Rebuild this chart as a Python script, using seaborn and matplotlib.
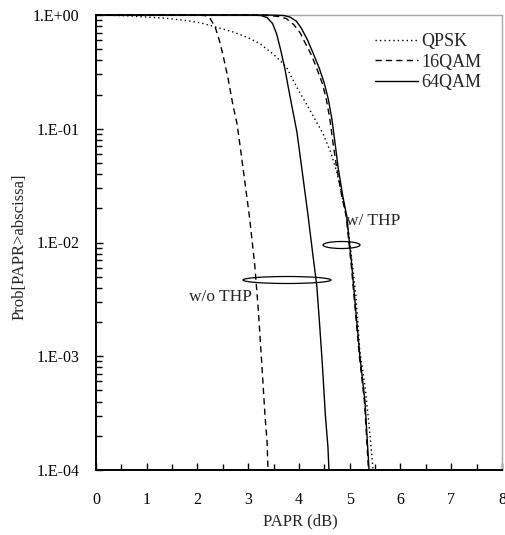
import numpy as np
import pandas as pd
import matplotlib
matplotlib.use("Agg")
import matplotlib.pyplot as plt
from matplotlib.patches import Ellipse
from matplotlib.ticker import LogLocator, FixedLocator, NullFormatter
import seaborn as sns

# ---- data ----
qpsk_thp_x = [0, 0.6, 1.0, 1.4, 1.8, 2.05, 2.34, 2.7, 3.0, 3.23, 3.5, 3.75, 3.96, 4.2, 4.47,
              4.62, 4.75, 4.87, 4.94, 5.02, 5.12, 5.2, 5.3, 5.38, 5.46]
qpsk_thp_y = [1.0, 0.985, 0.96, 0.935, 0.89, 0.855, 0.79, 0.71, 0.63, 0.56, 0.45, 0.35, 0.23, 0.15, 0.091,
              0.063, 0.041, 0.023, 0.017, 0.0085, 0.0035, 0.0011, 0.00055, 0.00025, 0.0001]

qam16_nothp_x = [0, 2.0, 2.15, 2.25, 2.35, 2.43, 2.5, 2.6, 2.7, 2.78, 2.85, 2.93, 3.03, 3.13,
                 3.2, 3.27, 3.33, 3.37, 3.39]
qam16_nothp_y = [1.0, 1.0, 0.99, 0.93, 0.78, 0.6, 0.45, 0.28, 0.16, 0.11, 0.065, 0.035, 0.016, 0.0062,
                 0.0025, 0.00081, 0.0003, 0.00018, 0.0001]

qam64_nothp_x = [0, 3.0, 3.25, 3.37, 3.48, 3.56, 3.64, 3.72, 3.79, 3.87, 3.96, 4.07, 4.18, 4.27,
                 4.35, 4.41, 4.46, 4.52, 4.57, 4.59]
qam64_nothp_y = [1.0, 1.0, 0.99, 0.95, 0.84, 0.68, 0.49, 0.34, 0.23, 0.15, 0.093, 0.04, 0.017, 0.008,
                 0.0042, 0.0018, 0.00085, 0.0003, 0.00016, 0.0001]

qam16_thp_x = [0, 3.3, 3.6, 3.75, 3.9, 4.02, 4.12, 4.25, 4.36, 4.46, 4.54, 4.61, 4.67, 4.74, 4.84,
               4.93, 5.03, 5.11, 5.19, 5.29, 5.37]
qam16_thp_y = [1.0, 1.0, 0.97, 0.93, 0.82, 0.7, 0.57, 0.44, 0.33, 0.25, 0.18, 0.12, 0.075, 0.046, 0.026,
               0.017, 0.0063, 0.0025, 0.001, 0.0004, 0.0001]

qam64_thp_x = [0, 3.4, 3.7, 3.82, 3.95, 4.05, 4.17, 4.28, 4.40, 4.5, 4.58, 4.65, 4.71, 4.77, 4.86,
               4.94, 5.04, 5.12, 5.2, 5.3, 5.38]
qam64_thp_y = [1.0, 1.0, 0.99, 0.96, 0.88, 0.76, 0.6, 0.46, 0.34, 0.25, 0.18, 0.12, 0.075, 0.046, 0.026,
               0.017, 0.0063, 0.0025, 0.001, 0.0004, 0.0001]

modulations = ["QPSK", "16QAM", "64QAM"]
x_ticks = [0, 1, 2, 3, 4, 5, 6, 7, 8]
y_ticks = [1e-4, 1e-3, 1e-2, 1e-1, 1e0]
y_tick_labels = ["1.E-04", "1.E-03", "1.E-02", "1.E-01", "1.E+00"]

frames = []
for mod, thp, xs, ys in [
    ("QPSK", "THP", qpsk_thp_x, qpsk_thp_y),
    ("16QAM", "noTHP", qam16_nothp_x, qam16_nothp_y),
    ("64QAM", "noTHP", qam64_nothp_x, qam64_nothp_y),
    ("16QAM", "THP", qam16_thp_x, qam16_thp_y),
    ("64QAM", "THP", qam64_thp_x, qam64_thp_y),
]:
    frames.append(pd.DataFrame({"papr": xs, "prob": ys, "mod": mod, "thp": thp}))
df = pd.concat(frames, ignore_index=True)

sns.set_theme(style="white")
plt.rcParams["font.family"] = ["Liberation Serif", "DejaVu Serif"]

fig = plt.figure(figsize=(5.06, 5.35), dpi=100)
ax = fig.add_axes([96 / 506, 1 - 470 / 535, 406 / 506, 455 / 535])

sns.lineplot(
    data=df, x="papr", y="prob", style="mod", units="thp", estimator=None,
    style_order=modulations, color="black", linewidth=1.0,
    dashes={"QPSK": (1, 2.2), "16QAM": (4.5, 3.0), "64QAM": ""},
    ax=ax, legend=True,
)
for line in ax.lines:
    line.set_zorder(3)
    line.set_clip_on(False)

ax.set_yscale("log")
ax.set_xlim(0, 8)
ax.set_ylim(1e-4, 1)

ax.xaxis.set_major_locator(FixedLocator(x_ticks))
ax.xaxis.set_minor_locator(FixedLocator([v + 0.5 for v in x_ticks[:-1]]))
ax.set_xticklabels([str(v) for v in x_ticks])
ax.yaxis.set_major_locator(FixedLocator(y_ticks))
ax.set_yticklabels(y_tick_labels)
ax.yaxis.set_minor_locator(LogLocator(base=10, subs=np.arange(2, 10), numticks=20))
ax.yaxis.set_minor_formatter(NullFormatter())

ax.tick_params(axis="both", which="both", direction="in", colors="black",
               labelsize=11.5, width=1.0)
ax.tick_params(axis="both", which="major", length=5)
ax.tick_params(axis="both", which="minor", length=4)
ax.tick_params(axis="x", which="both", bottom=True, top=False)
ax.tick_params(axis="y", which="both", left=True, right=False)
ax.tick_params(axis="x", which="major", pad=16)
ax.tick_params(axis="y", which="major", pad=12)

for side in ["left", "bottom"]:
    ax.spines[side].set_color("black")
    ax.spines[side].set_linewidth(1.4)
for side in ["top", "right"]:
    ax.spines[side].set_color("#a8a8a8")
    ax.spines[side].set_linewidth(1.0)

ax.set_xlabel("PAPR (dB)", fontsize=12)
ax.set_ylabel("Prob[PAPR>abscissa]", fontsize=12)
ax.xaxis.set_label_coords((300 - 96) / 406, (470 - 513) / 455)
ax.yaxis.set_label_coords((28 - 96) / 406, (470 - 247) / 455)

leg = ax.legend(loc="upper left", bbox_to_anchor=((375 - 96) / 406, 1 - (33 - 15) / 455),
                frameon=False, fontsize=13, handlelength=2.4, handletextpad=0.15,
                labelspacing=0.2, borderpad=0, borderaxespad=0)
for line in leg.get_lines():
    line.set_linewidth(1.0)

# annotations
ax.text(4.93, 10 ** -1.81, "w/ THP", fontsize=12.5, va="center", ha="left")
ax.text(3.08, 10 ** -2.48, "w/o THP", fontsize=12.5, va="center", ha="right")
ax.add_patch(Ellipse(((341.5 - 96) / 406, 1 - (245 - 15) / 455), 37 / 406, 7 / 455,
                     transform=ax.transAxes, fill=False, edgecolor="black", linewidth=0.9))
ax.add_patch(Ellipse(((287 - 96) / 406, 1 - (280 - 15) / 455), 88 / 406, 7 / 455,
                     transform=ax.transAxes, fill=False, edgecolor="black", linewidth=0.9))

fig.savefig("out.png", dpi=100)
